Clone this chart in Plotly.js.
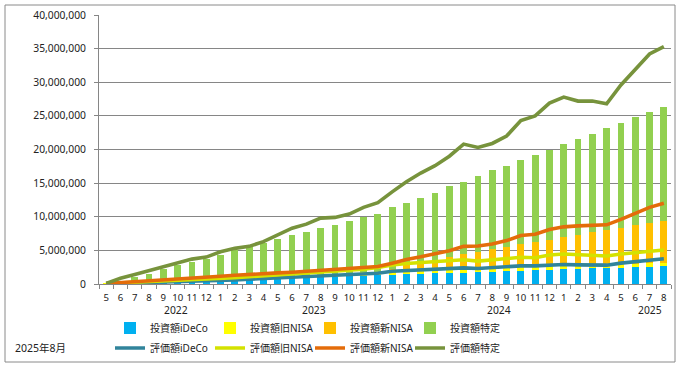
<!DOCTYPE html>
<html><head><meta charset="utf-8">
<script src="https://cdn.plot.ly/plotly-3.0.1.min.js"></script>
<style>html,body{margin:0;padding:0;background:#fff}#chart{width:679px;height:367px}</style>
</head><body><div id="chart"></div>
<script>
// values in millions of yen
const UNIT = 1e6;
const months = [5,6,7,8,9,10,11,12, 1,2,3,4,5,6,7,8,9,10,11,12, 1,2,3,4,5,6,7,8,9,10,11,12, 1,2,3,4,5,6,7,8];
const years = ['2022','2023','2024','2025'];

const invIDeCo   = [0.05,0.12,0.18,0.25,0.31,0.38,0.45,0.51,0.58,0.65, 0.71,0.78,0.85,0.91,0.98,1.05,1.11,1.18,1.25,1.31, 1.38,1.45,1.51,1.58,1.65,1.71,1.78,1.85,1.91,1.98, 2.05,2.11,2.18,2.25,2.31,2.38,2.45,2.51,2.58,2.65];
const invOldNISA = [0.03,0.05,0.08,0.10,0.13,0.15,0.18,0.20,0.23,0.25, 0.28,0.30,0.33,0.35,0.38,0.40,0.43,0.45,0.48,0.50, 0.50,0.50,0.50,0.50,0.50,0.50,0.50,0.50,0.50,0.50, 0.50,0.50,0.50,0.50,0.50,0.50,0.50,0.50,0.50,0.50];
const invNewNISA = [0,0,0,0,0,0,0,0,0,0, 0,0,0,0,0,0,0,0,0,0, 0.42,0.85,1.19,1.52,1.85,2.19,2.52,2.85,3.09,3.42, 3.65,3.99,4.32,4.55,4.89,5.12,5.45,5.69,6.02,6.25];
const invTokutei = [0.02,0.33,0.74,1.15,1.76,2.27,2.67,2.99,3.49,4.20, 4.51,5.02,5.52,6.04,6.34,6.95,7.26,7.77,8.27,8.59, 9.10,9.30,9.60,10.0,10.5,10.8,11.3,11.7,12.1,12.6, 13.0,13.4,13.8,14.3,14.6,15.2,15.6,16.2,16.5,16.9];

const evalIDeCo   = [0.05,0.10,0.15,0.20,0.25,0.30,0.35,0.40,0.50,0.60, 0.70,0.80,0.85,0.95,1.00,1.10,1.20,1.30,1.45,1.60, 1.90,2.00,2.05,2.15,2.30,2.40,2.30,2.45,2.60,2.70, 2.70,2.80,2.90,2.85,2.80,2.80,3.10,3.35,3.55,3.75];
const evalOldNISA = [0.03,0.06,0.10,0.13,0.17,0.20,0.24,0.27,0.30,0.33, 0.38,0.42,0.46,0.50,0.55,0.60,0.65,0.70,0.76,0.85, 0.93,1.05,1.12,1.15,1.17,1.20,1.10,1.15,1.10,1.27, 1.20,1.50,1.56,1.55,1.50,1.37,1.36,1.35,1.40,1.31];
const evalNewNISA = [0,0.04,0.10,0.17,0.23,0.30,0.31,0.33,0.35,0.37, 0.37,0.33,0.34,0.30,0.35,0.35,0.30,0.25,0.19,0.15, 0.27,0.60,0.88,1.15,1.48,2.00,2.25,2.35,2.75,3.23, 3.50,3.80,4.04,4.25,4.40,4.63,5.14,5.80,6.45,6.94];
const evalTokutei = [0.02,0.65,1.05,1.50,1.85,2.40,2.80,3.00,3.65,4.00, 4.15,4.75,5.65,6.55,7.00,7.75,7.75,8.15,9.00,9.50, 10.6,11.55,12.45,13.15,14.05,15.2,14.65,14.95,15.55,17.1, 17.6,18.8,19.3,18.55,18.5,18.0,20.0,21.4,22.8,23.3];

const barNames  = ['投資額iDeCo','投資額旧NISA','投資額新NISA','投資額特定'];
const lineNames = ['評価額iDeCo','評価額旧NISA','評価額新NISA','評価額特定'];

// ---- build ----
const xIdx = months.map((_, i) => i);
const scale = a => a.map(v => v * UNIT);
const barColors  = ['#00B0F0','#FFFF00','#FFC000','#92D050'];
const lineColors = ['#31849B','#D4E200','#E46C0A','#77933C'];
const barData  = [invIDeCo, invOldNISA, invNewNISA, invTokutei];
const lineData = [evalIDeCo, evalOldNISA, evalNewNISA, evalTokutei];

const traces = [];
barData.forEach((arr, k) => traces.push({
  type:'bar', x:xIdx, y:scale(arr), name:barNames[k],
  marker:{color:barColors[k], line:{width:0}}, legend:'legend'
}));
lineData.forEach((arr, k) => traces.push({
  type:'scatter', mode:'lines', x:xIdx, y:scale(arr), name:lineNames[k],
  stackgroup:'eval', fill:'none',
  line:{color:lineColors[k], width:3.6}, legend:'legend2'
}));

const FONT = "'Noto Sans', 'Noto Sans CJK JP', sans-serif";
const yearPos = [4.85, 14.5, 27.5, 38.0];
const annotations = years.map((t, k) => ({
  text:t, x:yearPos[k], xref:'x', y:-0.097, yref:'paper', yanchor:'middle',
  showarrow:false, font:{family:FONT, size:10.3, color:'#222'}
}));
annotations.push({text:'2025年8月', x:-0.150, xref:'paper', xanchor:'left', y:-0.238, yref:'paper',
  yanchor:'middle', showarrow:false, font:{family:FONT, size:10.5, color:'#222'}});

const legendBase = {
  orientation:'h', xref:'container', yref:'container', xanchor:'left', yanchor:'middle',
  x:110/679, entrywidth:55, entrywidthmode:'pixels', itemwidth:30,
  font:{family:FONT, size:10, color:'#222'}, bgcolor:'rgba(0,0,0,0)', traceorder:'normal'
};

const layout = {
  width:679, height:367,
  margin:{l:99, r:8, t:15, b:83},
  paper_bgcolor:'#fff', plot_bgcolor:'#fff',
  barmode:'stack', bargap:0.52,
  font:{family:FONT, size:10.3, color:'#222'},
  xaxis:{range:[-0.5,39.5], tickmode:'array', tickvals:xIdx, ticktext:months.map(String),
    ticks:'', showgrid:false, zeroline:false, showline:true, linecolor:'#868686', linewidth:1,
    ticklabelstandoff:4,
    tickfont:{family:FONT, size:9.6, color:'#222'},
    minor:{tickmode:'linear', tick0:-0.5, dtick:1, ticks:'outside', ticklen:4, tickcolor:'#868686', showgrid:false}},
  yaxis:{range:[0,40e6], dtick:5e6, tickformat:',d', showgrid:true, gridcolor:'#868686', gridwidth:1,
    zeroline:false, showline:true, linecolor:'#868686', ticks:'outside', ticklen:4, tickcolor:'#868686',
    ticklabelstandoff:6, tickfont:{family:FONT, size:10.3, color:'#222'}},
  legend: Object.assign({}, legendBase, {y:1-328/367}),
  legend2: Object.assign({}, legendBase, {y:1-348/367}),
  annotations: annotations,
  shapes:[{type:'rect', xref:'paper', yref:'paper', x0:(5-99)/572, x1:(675-99)/572, y0:(284-362)/269, y1:(284-5)/269,
    line:{color:'#8a8a8a', width:1}, fillcolor:'rgba(0,0,0,0)', layer:'below'}],
  showlegend:true
};

Plotly.newPlot('chart', traces, layout, {staticPlot:true});
</script>
</body></html>
